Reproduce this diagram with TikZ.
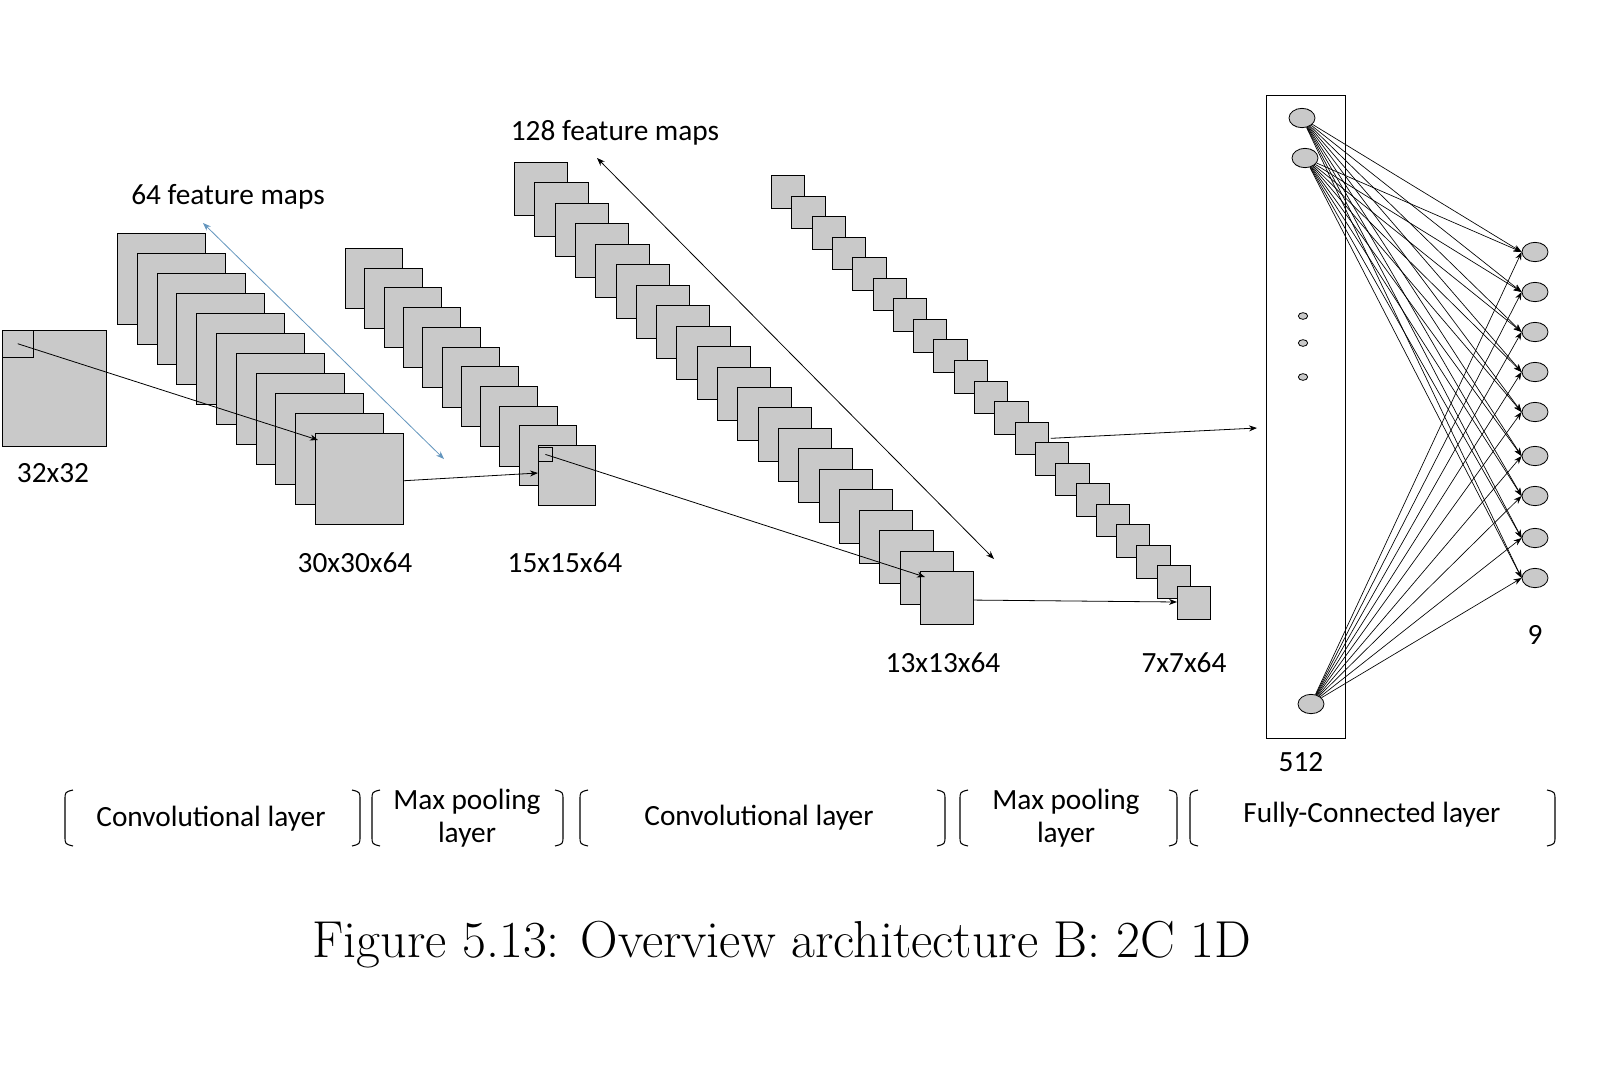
\documentclass[tikz,border=0pt]{standalone}
\usepackage{fontspec}
\newfontfamily\lblfont{Carlito}
\usetikzlibrary{arrows.meta,calc,shapes.geometric}
\begin{document}
\begin{tikzpicture}[x=0.75pt,y=-0.75pt,
  fm/.style={draw,line width=0.6pt,fill=gray!42,inner sep=0,anchor=north west},
  arr/.style={-{Stealth[length=6pt,width=4.5pt]},line width=0.6pt},
  darr/.style={{Stealth[length=6pt,width=4.5pt]}-{Stealth[length=6pt,width=4.5pt]},line width=0.6pt},
  lbl/.style={font=\lblfont\fontsize{22}{25}\selectfont,align=center},
  neur/.style={ellipse,draw,line width=0.6pt,fill=gray!42,minimum width=19.5pt,minimum height=14.5pt,inner sep=0},
  dotn/.style={ellipse,draw,line width=0.6pt,fill=gray!42,minimum width=7pt,minimum height=5pt,inner sep=0},
  brk/.style={line width=0.8pt}]
\fill[white] (0,0) rectangle (1604,1071);
% input
\node[fm,minimum width=78pt,minimum height=87pt] (in) at (2,330) {};
\node[fm,minimum width=23pt,minimum height=20pt] (ins) at (2,330) {};
\node[lbl] (l32) at (53,473) {32x32};
% conv1 stack
\foreach \i in {1,...,11}{\node[fm,minimum width=66pt,minimum height=68pt] (a\i) at ({117+(\i-1)*19.8},{233+(\i-1)*20}) {};}
% pool1 stack
\foreach \i in {1,...,11}{\node[fm,minimum width=43pt,minimum height=45pt] (b\i) at ({345+(\i-1)*19.3},{248+(\i-1)*19.7}) {};}
\node[fm,minimum width=10.5pt,minimum height=10.5pt] (bs) at (538,447) {};
% conv2 stack
\foreach \i in {1,...,21}{\node[fm,minimum width=40pt,minimum height=40pt] (c\i) at ({514+(\i-1)*20.3},{162+(\i-1)*20.45}) {};}
% pool2 stack
\foreach \i in {1,...,21}{\node[fm,minimum width=25pt,minimum height=24.5pt] (d\i) at ({771+(\i-1)*20.3},{175+(\i-1)*20.55}) {};}
% labels
\node[lbl] (t64) at (228,197) {64 feature maps};
\node[lbl] (t128) at (615,133) {128 feature maps};
\node[lbl] (l30) at (355,563) {30x30x64};
\node[lbl] (l15) at (565,563) {15x15x64};
\node[lbl] (l13) at (943,663) {13x13x64};
\node[lbl] (l7) at (1184,663) {7x7x64};
% double arrows
\coordinate (u1) at (203,223); \coordinate (u2) at (444,459);
\draw[darr,color={rgb,255:red,100;green,150;blue,190}] (u1) -- (u2);
\coordinate (v1) at (597,158); \coordinate (v2) at (994,559);
\draw[darr] (v1) -- (v2);
% arrows between stages
\draw[arr] (ins.center) -- ($(a11.north west)+(3,7)$);
\draw[arr] ($(a11.east)+(0,2)$) -- ($(b11.north west)+(0,28)$);
\draw[arr] (bs.center) -- ($(c21.north west)+(5,6)$);
\draw[arr] ($(c21.east)+(0,2)$) -- ($(d21.north west)+(0,16)$);
\coordinate (fcin) at (1257,428);
\draw[arr] ($(d13.east)+(2,0)$) -- (fcin);
% FC layer
\node[draw,line width=0.6pt,minimum width=59pt,minimum height=482pt,inner sep=0,anchor=north west] (box) at (1266,95) {};
\node[neur] (h1) at (1302,118) {};
\node[neur] (h2) at (1305,158) {};
\node[neur] (h3) at (1311,704) {};
\node[dotn] (p1) at (1303,316) {};
\node[dotn] (p2) at (1303,343) {};
\node[dotn] (p3) at (1303,377) {};
\node[lbl] (l512) at (1301,762) {512};
\foreach \j/\yy in {1/252,2/292,3/332,4/372,5/412,6/456,7/496,8/538,9/578}{\node[neur] (o\j) at (1535,\yy) {};}
\node[lbl] (l9) at (1535,635) {9};
\foreach \h in {h1,h2,h3}{\foreach \j in {1,...,9}{\draw[arr,line width=0.5pt] (\h) -- (o\j.west);}}
% brackets
\foreach \n/\xx/\s in {b1/65/1,b2/360/-1,b3/372/1,b4/563/-1,b5/580/1,b6/945/-1,b7/960/1,b8/1177/-1,b9/1190/1,b10/1555/-1}{
  \coordinate (\n) at (\xx,818);
  \draw[brk] ($(\n)+({\s*8},-28)$) .. controls ($(\n)+(0,-26)$) .. ($(\n)+(0,-18)$) -- ($(\n)+(0,18)$) .. controls ($(\n)+(0,26)$) .. ($(\n)+({\s*8},28)$);}
\node[lbl] (g1) at (211,819) {Convolutional layer};
\node[lbl] (g2) at (467,818) {Max pooling\\layer};
\node[lbl] (g3) at (759,818) {Convolutional layer};
\node[lbl] (g4) at (1066,818) {Max pooling\\layer};
\node[lbl] (g5) at (1372,815) {Fully-Connected layer};
\node[font=\fontsize{39}{44}\selectfont] (cap) at (782,945) {Figure 5.13: Overview architecture B: 2C 1D};
\pgfresetboundingbox
\useasboundingbox (0,0) rectangle (1604,1071);
\end{tikzpicture}
\end{document}
